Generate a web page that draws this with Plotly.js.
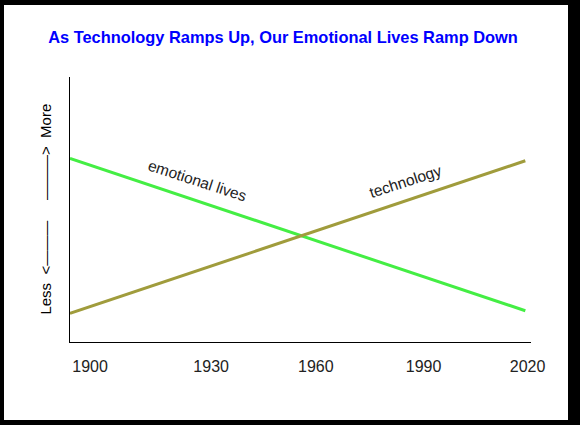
<!DOCTYPE html>
<html>
<head>
<meta charset="utf-8">
<script src="https://cdn.plot.ly/plotly-3.0.1.min.js"></script>
<style>
    body { margin: 0; background: #fff; }
    #frame {
        width: 580px; height: 425px; box-sizing: border-box;
        border-style: solid; border-color: #000;
        border-width: 5px 12px 5px 4px;
    }
    #chart { width: 564px; height: 415px; }
</style>
</head>
<body>
<div id="frame"><div id="chart"></div></div>
<script>
// data
let years = [1900, 2020];
let emotional = [6.93, 1.18];
let technology = [1.08, 6.84];

// tick labels (placed where the picture shows them)
let tickPos = [1905.3, 1937.2, 1964.8, 1993.2, 2020.6];
let tickText = ["1900", "1930", "1960", "1990", "2020"];

// line labels
let labelText = ["emotional lives", "technology"];
let labelX = [1933.5, 1988.3];
let labelY = [6.08, 6.04];
let labelAngle = [18, -18];

const FONT = "Liberation Sans, Arial, sans-serif";

let traces = [
    {
        x: years, y: emotional, mode: "lines", name: "emotional lives",
        line: { color: "#44ee44", width: 3 }
    },
    {
        x: years, y: technology, mode: "lines", name: "technology",
        line: { color: "#a09c3c", width: 3 }
    }
];

let notes = labelText.map(function (t, i) {
    return {
        text: t, x: labelX[i], y: labelY[i], xref: "x", yref: "y",
        showarrow: false, textangle: labelAngle[i],
        font: { family: FONT, size: 15.5, color: "#222" }
    };
});

// y axis "Less <--  --> More" label
let nb = "\u00a0";
let bar = "\u2014\u2014\u2014";
notes.push({
    text: "Less" + nb + nb + "<" + bar + nb.repeat(5) + bar + ">" + nb + nb + "More",
    xref: "paper", yref: "paper", x: -0.054, y: 0.5,
    xanchor: "center", yanchor: "middle",
    showarrow: false, textangle: -90,
    font: { family: FONT, size: 15, color: "#000" }
});

let layout = {
    width: 564, height: 415,
    margin: { l: 66, r: 37, t: 72, b: 78 },
    paper_bgcolor: "#fff", plot_bgcolor: "#fff",
    showlegend: false,
    title: {
        text: "<b>As Technology Ramps Up, Our Emotional Lives Ramp Down</b>",
        x: 0.4947, xanchor: "center", y: 0.923, yanchor: "middle",
        font: { family: FONT, size: 16.4, color: "#0000ff" }
    },
    xaxis: {
        range: [1900, 2021.5], showgrid: false, zeroline: false,
        showline: true, linecolor: "#000", linewidth: 1,
        tickvals: tickPos, ticktext: tickText,
        ticks: "outside", ticklen: 10, tickcolor: "rgba(0,0,0,0)",
        tickfont: { family: FONT, size: 16, color: "#222" }
    },
    yaxis: {
        range: [0, 10], showgrid: false, zeroline: false,
        showline: true, linecolor: "#000", linewidth: 1,
        showticklabels: false, ticks: ""
    },
    annotations: notes
};

Plotly.newPlot("chart", traces, layout, { displayModeBar: false, staticPlot: true });
</script>
</body>
</html>
